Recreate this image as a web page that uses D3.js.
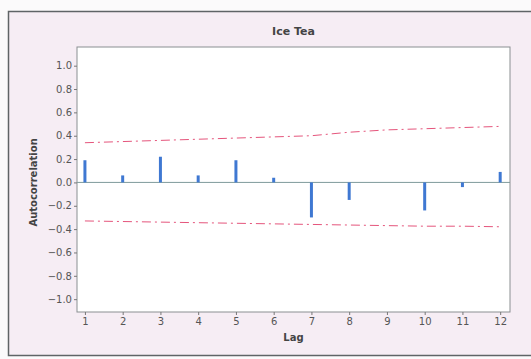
<!DOCTYPE html>
<html>
<head>
<meta charset="utf-8">
<script src="https://cdn.jsdelivr.net/npm/d3@7"></script>
<style>
  body { margin: 0; background: #fbfafb; }
  svg { display: block; }
  text { font-family: "DejaVu Sans", sans-serif; }
</style>
</head>
<body>
<div id="chart"></div>
<script>
// ACF values
const lags = [1, 2, 3, 4, 5, 6, 7, 8, 9, 10, 11, 12];
const acf = [0.19, 0.06, 0.22, 0.06, 0.19, 0.04, -0.30, -0.15, 0.0, -0.24, -0.04, 0.09];
const upperLimit = [0.34, 0.35, 0.36, 0.37, 0.38, 0.39, 0.40, 0.43, 0.45, 0.46, 0.47, 0.48];
const lowerLimit = [-0.33, -0.335, -0.34, -0.345, -0.35, -0.355, -0.36, -0.365, -0.37, -0.375, -0.375, -0.38];
const yTicks = [-1.0, -0.8, -0.6, -0.4, -0.2, 0.0, 0.2, 0.4, 0.6, 0.8, 1.0];

const width = 531, height = 359;
const margin = {top: 47, right: 21, bottom: 47, left: 77};
const plotW = width - margin.left - margin.right;
const plotH = height - margin.top - margin.bottom;

const svg = d3.select('#chart')
  .append('svg')
  .attr('width', width)
  .attr('height', height);

// outer panel
svg.append('rect')
  .attr('x', 8.5).attr('y', 11.5)
  .attr('width', width).attr('height', 344)
  .attr('fill', '#f6edf4')
  .attr('stroke', '#5f6466')
  .attr('stroke-width', 1.5);

svg.append('text')
  .attr('x', margin.left + plotW / 2)
  .attr('y', 35)
  .attr('text-anchor', 'middle')
  .attr('font-size', 11)
  .attr('font-weight', 'bold')
  .attr('fill', '#444')
  .text('Ice Tea');

const g = svg.append('g')
  .attr('transform', `translate(${margin.left},${margin.top})`);

const x = d3.scaleLinear().domain([0.79, 12.26]).range([0, plotW]);
const y = d3.scaleLinear().domain([-1.11, 1.16]).range([plotH, 0]);

g.append('rect')
  .attr('width', plotW).attr('height', plotH)
  .attr('fill', '#ffffff')
  .attr('stroke', '#8a8f91')
  .attr('stroke-width', 1);

// axes
const yAxis = g.append('g')
  .call(d3.axisLeft(y).tickValues(yTicks).tickFormat(d3.format('.1f')).tickSize(3).tickPadding(2));
const xAxis = g.append('g')
  .attr('transform', `translate(0,${plotH})`)
  .call(d3.axisBottom(x).tickValues(lags).tickSize(3).tickPadding(3));
[xAxis, yAxis].forEach(a => {
  a.select('.domain').remove();
  a.selectAll('line').attr('stroke', '#777');
  a.selectAll('text').attr('fill', '#555').attr('font-size', 10).attr('font-family', '"DejaVu Sans", sans-serif');
});

// zero reference line
g.append('line')
  .attr('x1', 0).attr('x2', plotW)
  .attr('y1', y(0)).attr('y2', y(0))
  .attr('stroke', '#7f9a9c')
  .attr('stroke-width', 1);

// confidence limits
const limLine = d3.line().x((d, i) => x(lags[i])).y(d => y(d));
[upperLimit, lowerLimit].forEach(lim => {
  g.append('path')
    .datum(lim)
    .attr('fill', 'none')
    .attr('stroke', '#e5557c')
    .attr('stroke-width', 1)
    .attr('stroke-dasharray', '9,4,2,4')
    .attr('d', limLine);
});

// autocorrelation spikes
g.selectAll('.spike')
  .data(acf)
  .enter().append('line')
  .attr('class', 'spike')
  .attr('x1', (d, i) => x(lags[i]))
  .attr('x2', (d, i) => x(lags[i]))
  .attr('y1', y(0))
  .attr('y2', d => y(d))
  .attr('stroke', '#3f78d2')
  .attr('stroke-width', 3);

// axis titles
svg.append('text')
  .attr('x', margin.left + plotW / 2)
  .attr('y', 341)
  .attr('text-anchor', 'middle')
  .attr('font-size', 10)
  .attr('font-weight', 'bold')
  .attr('fill', '#444')
  .text('Lag');

svg.append('text')
  .attr('transform', `translate(37,${margin.top + y(0)}) rotate(-90)`)
  .attr('text-anchor', 'middle')
  .attr('font-size', 10)
  .attr('font-weight', 'bold')
  .attr('fill', '#444')
  .text('Autocorrelation');
</script>
</body>
</html>
